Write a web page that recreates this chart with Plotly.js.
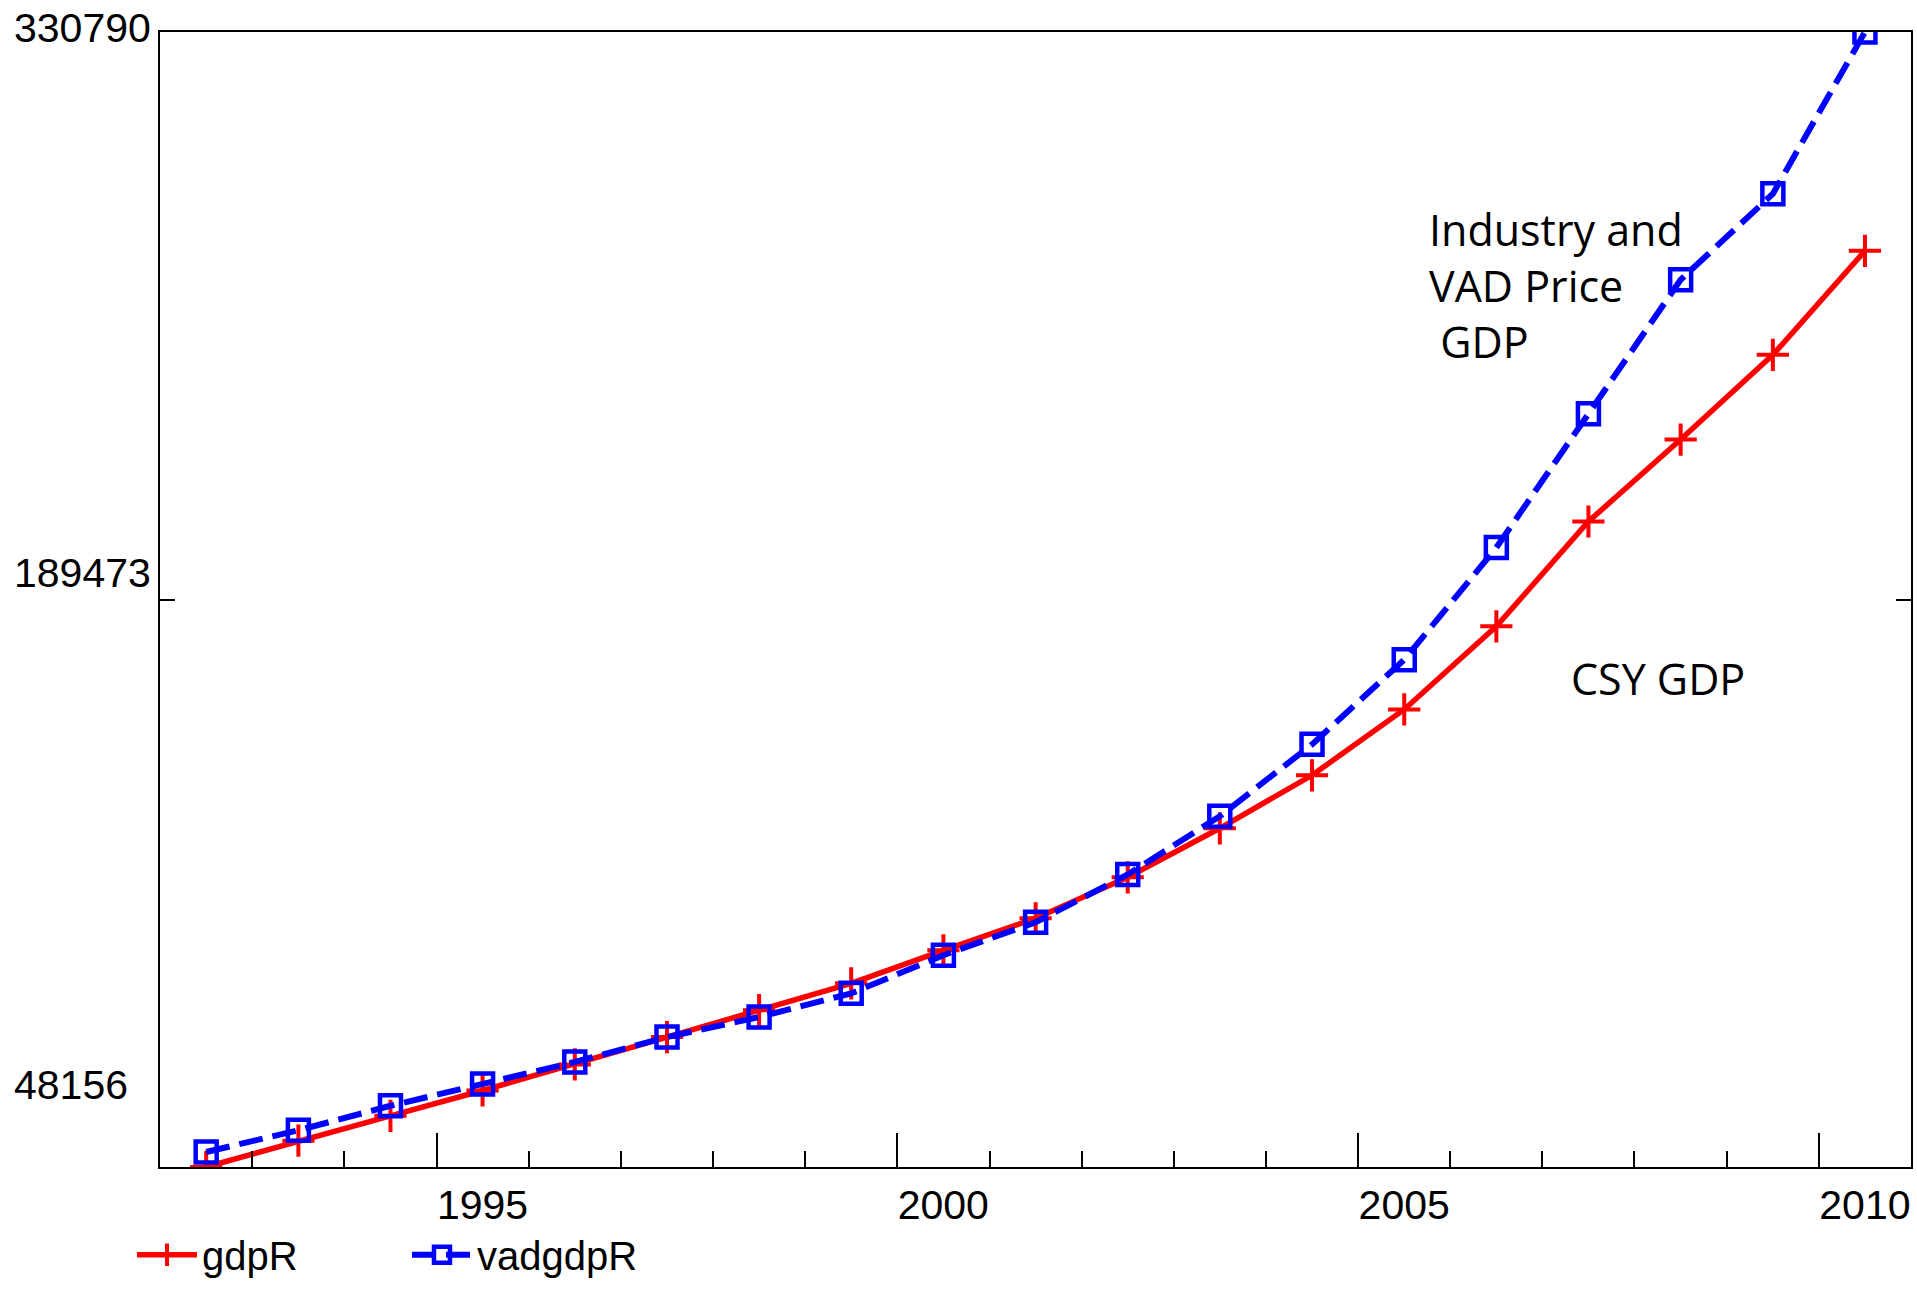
<!DOCTYPE html>
<html>
<head>
<meta charset="utf-8">
<script src="https://cdn.plot.ly/plotly-3.0.1.min.js"></script>
<style>
  html, body { margin: 0; padding: 0; background: #ffffff; }
  #chart { width: 1917px; height: 1292px; }
</style>
</head>
<body>
<div id="chart"></div>
<script>
// ---- data ----
const years = ["1992","1993","1994","1995","1996","1997","1998","1999","2000","2001",
               "2002","2003","2004","2005","2006","2007","2008","2009","2010"];
const gdpR = [48156, 54700, 60900, 67200, 73700, 80500, 87200, 93900, 102100, 110100,
              120300, 132500, 145700, 162100, 182800, 208900, 229300, 250400, 276300];
const vadgdpR = [51900, 57300, 63400, 68800, 74300, 80500, 85500, 91400, 100900, 109100,
                 121000, 135500, 153400, 174500, 202400, 235700, 269100, 290500, 330790];
const yAxisLabels = [330790, 189473, 48156];
const xRange = ["1992-01-01", "2011-01-01"];
const noteVad = "Industry and<br>VAD Price<br>\u00a0GDP";
const noteCsy = "CSY GDP";

const tickFont = { family: "Liberation Sans, Arial, sans-serif", size: 41, color: "#000000" };
const noteFont = { family: "Open Sans, sans-serif", size: 43, color: "#000000" };

const traces = [
  {
    x: years, y: gdpR, name: "gdpR", type: "scatter", mode: "lines+markers",
    xperiod: "M12", xperiodalignment: "middle",
    line: { color: "#ff0000", width: 5.5 },
    marker: { symbol: "cross-thin", size: 23, color: "#ff0000", line: { color: "#ff0000", width: 4 } }
  },
  {
    x: years, y: vadgdpR, name: "vadgdpR", type: "scatter", mode: "lines+markers",
    xperiod: "M12", xperiodalignment: "middle",
    line: { color: "#0000ff", width: 6, dash: "24px,10px" },
    marker: { symbol: "square-open", size: 21, color: "#0000ff", line: { color: "#0000ff", width: 4.5 } }
  }
];

const yShifts = [4.5, 27, 82];
const annotations = yAxisLabels.map((v, i) => ({
  xref: "paper", yref: "y", x: 0, y: v, xanchor: "left", yanchor: "middle",
  xshift: -148, yshift: yShifts[i], text: String(v), showarrow: false, font: tickFont
}));
annotations.push({
  xref: "paper", yref: "paper", x: 0.7237, y: 0.777, xanchor: "left", yanchor: "middle",
  text: noteVad, showarrow: false, align: "left", font: noteFont
});
annotations.push({
  xref: "paper", yref: "paper", x: 0.8045, y: 0.4307, xanchor: "left", yanchor: "middle",
  text: noteCsy, showarrow: false, align: "left", font: noteFont
});

const layout = {
  width: 1917, height: 1292,
  margin: { l: 160, r: 6, t: 32, b: 124 },
  paper_bgcolor: "#ffffff", plot_bgcolor: "#ffffff",
  showlegend: true,
  legend: {
    orientation: "h", x: -0.016, y: -0.105, xanchor: "left", yanchor: "bottom",
    font: { family: "Liberation Sans, Arial, sans-serif", size: 40, color: "#000000" },
    itemwidth: 60,
    entrywidth: 200, entrywidthmode: "pixels", bgcolor: "rgba(0,0,0,0)"
  },
  xaxis: {
    type: "date", range: xRange, showgrid: false, zeroline: false,
    showline: true, linecolor: "#000000", linewidth: 2, mirror: true,
    ticks: "inside", ticklen: 34, tickwidth: 2, tickcolor: "#000000",
    tick0: "1995-01-01", dtick: "M60", tickformat: "%Y",
    tickfont: tickFont, ticklabelstandoff: 1, ticklabelshift: 46,
    minor: { ticks: "inside", ticklen: 16, tickwidth: 2, tickcolor: "#000000",
             dtick: "M12", tick0: "1992-01-01", showgrid: false }
  },
  yaxis: {
    range: [yAxisLabels[2], yAxisLabels[0]], showgrid: false, zeroline: false,
    showline: true, linecolor: "#000000", linewidth: 2, mirror: "ticks",
    ticks: "inside", ticklen: 15, tickwidth: 2, tickcolor: "#000000",
    tickmode: "array", tickvals: [yAxisLabels[1]], showticklabels: false
  },
  annotations: annotations
};

Plotly.newPlot("chart", traces, layout, { displayModeBar: false, staticPlot: true });
</script>
</body>
</html>
